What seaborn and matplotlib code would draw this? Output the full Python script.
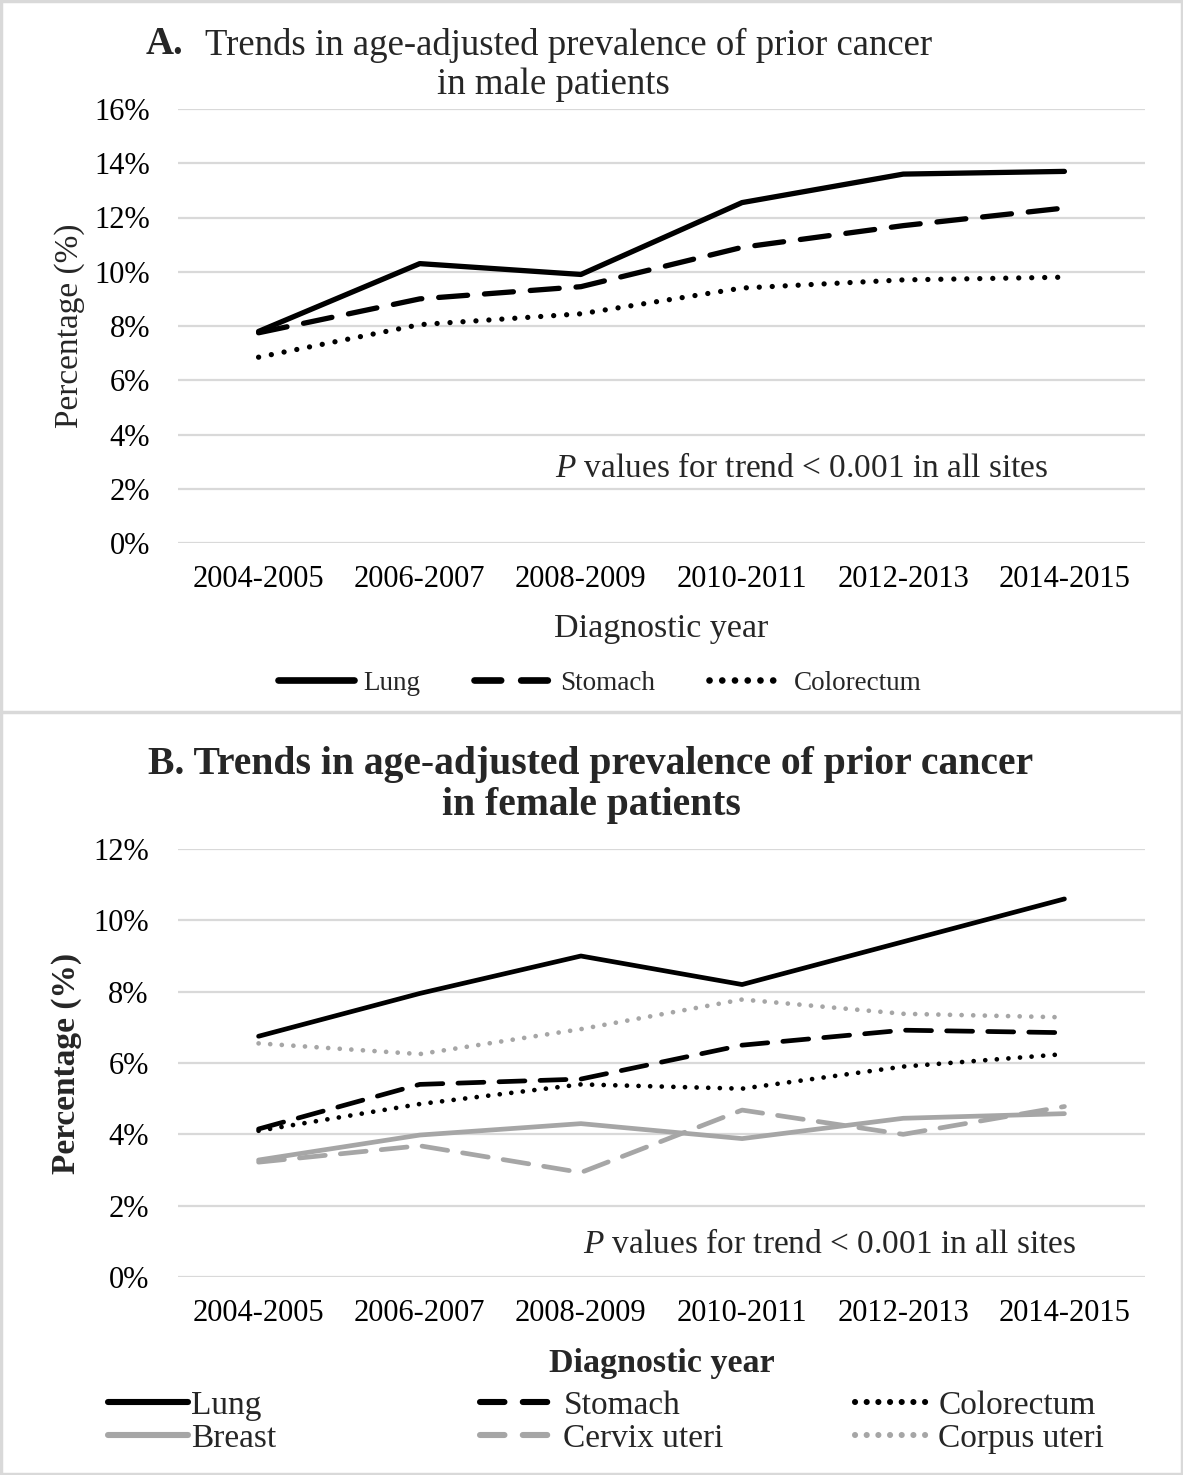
import numpy as np
import pandas as pd
import matplotlib
matplotlib.use("Agg")
import matplotlib.pyplot as plt
from matplotlib.lines import Line2D
import seaborn as sns

years = ["2004-2005", "2006-2007", "2008-2009", "2010-2011", "2012-2013", "2014-2015"]

# Panel A - male patients (%)
male_lung = [7.8, 10.3, 9.9, 12.55, 13.6, 13.7]
male_stomach = [7.75, 9.0, 9.45, 10.9, 11.7, 12.35]
male_colorectum = [6.85, 8.05, 8.45, 9.4, 9.7, 9.8]

# Panel B - female patients (%)
fem_lung = [6.75, 7.95, 9.0, 8.2, 9.4, 10.6]
fem_stomach = [4.15, 5.4, 5.55, 6.5, 6.92, 6.85]
fem_colorectum = [4.1, 4.85, 5.4, 5.28, 5.9, 6.25]
fem_breast = [3.28, 3.98, 4.3, 3.88, 4.45, 4.58]
fem_cervix = [3.22, 3.68, 2.93, 4.68, 4.0, 4.78]
fem_corpus = [6.55, 6.25, 6.95, 7.78, 7.38, 7.28]

sns.set_theme(style="white")
plt.rcParams['font.family'] = ['Liberation Serif', 'DejaVu Serif']
plt.rcParams['mathtext.fontset'] = 'custom'
plt.rcParams['mathtext.rm'] = 'Liberation Serif'
plt.rcParams['mathtext.it'] = 'Liberation Serif:italic'

W, H = 1183, 1475
fig = plt.figure(figsize=(W / 100, H / 100), dpi=100)
fig.patch.set_facecolor("white")

BLACK = "black"
GRAY = "#a6a6a6"
SOLID = "-"
DASH = (0, (5.5, 3.2))
DOT = (0, (0.01, 2.45))
LEG_DASH = (0, (4.0, 3.0))
LEG_DOT = (0, (0.01, 1.9))
leg_style = {SOLID: SOLID, DASH: LEG_DASH, DOT: LEG_DOT}


def px(x0, y0, x1, y1):
    return [x0 / W, 1 - y1 / H, (x1 - x0) / W, (y1 - y0) / H]


def style_axes(ax, ymax, bold, ypad, ylpad):
    ax.set_xlim(-0.5, 5.5)
    ax.set_ylim(0, ymax)
    ax.set_yticks(np.arange(0, ymax + 0.1, 2))
    ax.set_yticklabels([f"{int(v)}%" for v in np.arange(0, ymax + 0.1, 2)])
    ax.grid(axis="y", color="#d9d9d9", lw=1.6)
    ax.grid(axis="x", visible=False)
    ax.set_axisbelow(True)
    for s in ax.spines.values():
        s.set_visible(False)
    ax.tick_params(axis="both", length=0, labelsize=22, colors="black")
    ax.tick_params(axis="y", pad=ypad)
    ax.tick_params(axis="x", pad=16)
    w = "bold" if bold else "normal"
    ax.set_ylabel("Percentage (%)", fontsize=24, fontweight=w, labelpad=ylpad)
    ax.set_xlabel("Diagnostic year", fontsize=24.5, fontweight=w, labelpad=14)
    ax.set_facecolor("white")


# ---------- Panel A ----------
axA = fig.add_axes(px(178, 109, 1145, 543))
seriesA = [("Lung", male_lung, BLACK, SOLID),
           ("Stomach", male_stomach, BLACK, DASH),
           ("Colorectum", male_colorectum, BLACK, DOT)]
handlesA = []
for name, vals, col, ls in seriesA:
    sns.lineplot(x=years, y=vals, ax=axA, color=col, linewidth=3.8, linestyle=ls,
                 dash_capstyle="round", solid_capstyle="round", sort=False, legend=False)
    handlesA.append(Line2D([], [], color=col, lw=4.8, linestyle=leg_style[ls],
                           dash_capstyle="round", solid_capstyle="round", label=name))
style_axes(axA, 16, False, 20, 7)
axA.text(0.39, 0.17, r"$\it{P}$ values for trend < 0.001 in all sites", transform=axA.transAxes,
         fontsize=24, va="center", ha="left")

fig.text(146 / W, 1 - 45 / H, "A.", fontsize=28, fontweight="bold", va="center", ha="left")
fig.text(205 / W, 1 - 45 / H, "Trends in age-adjusted prevalence of prior cancer",
         fontsize=26.5, va="center", ha="left")
fig.text(553 / W, 1 - 85 / H, "in male patients", fontsize=26.5, va="center", ha="center")

fig.legend(handles=handlesA, loc="center", bbox_to_anchor=(600 / W, 1 - 683 / H), ncol=3,
           frameon=False, fontsize=19.5, handlelength=2.8, handletextpad=0.35,
           columnspacing=2.0)

# ---------- Panel B ----------
axB = fig.add_axes(px(178, 849, 1145, 1277))
seriesB = [("Lung", fem_lung, BLACK, SOLID),
           ("Stomach", fem_stomach, BLACK, DASH),
           ("Colorectum", fem_colorectum, BLACK, DOT),
           ("Breast", fem_breast, GRAY, SOLID),
           ("Cervix uteri", fem_cervix, GRAY, DASH),
           ("Corpus uteri", fem_corpus, GRAY, DOT)]
handlesB = {}
for name, vals, col, ls in seriesB:
    sns.lineplot(x=years, y=vals, ax=axB, color=col, linewidth=3.4, linestyle=ls,
                 dash_capstyle="round", solid_capstyle="round", sort=False, legend=False)
    handlesB[name] = Line2D([], [], color=col, lw=4.4, linestyle=leg_style[ls],
                            dash_capstyle="round", solid_capstyle="round", label=name)
style_axes(axB, 12, True, 21, 8)
axB.text(0.419, 0.075, r"$\it{P}$ values for trend < 0.001 in all sites", transform=axB.transAxes,
         fontsize=24, va="center", ha="left")

fig.text(591 / W, 1 - 785 / H, "B. Trends in age-adjusted prevalence of prior cancer\nin female patients",
         fontsize=28.5, fontweight="bold", va="center", ha="center", linespacing=1.12)

cols = [(["Lung", "Breast"], 108), (["Stomach", "Cervix uteri"], 480),
        (["Colorectum", "Corpus uteri"], 855)]
for names, x0 in cols:
    leg = fig.legend(handles=[handlesB[n] for n in names], loc="center left",
                     bbox_to_anchor=(x0 / W, 1 - 1422 / H), ncol=1, frameon=False,
                     fontsize=24, handlelength=2.4, handletextpad=0.1, labelspacing=0.08,
                     borderpad=0, borderaxespad=0)

# frame and separator
fig.add_artist(plt.Rectangle((0.001, 0.001), 0.998, 0.998, transform=fig.transFigure,
                             fill=False, edgecolor="#d9d9d9", lw=2.5))
fig.add_artist(Line2D([0, 1], [1 - 712 / H, 1 - 712 / H], transform=fig.transFigure,
                      color="#d9d9d9", lw=2.5))

fig.savefig("out.png", dpi=100, facecolor="white")
